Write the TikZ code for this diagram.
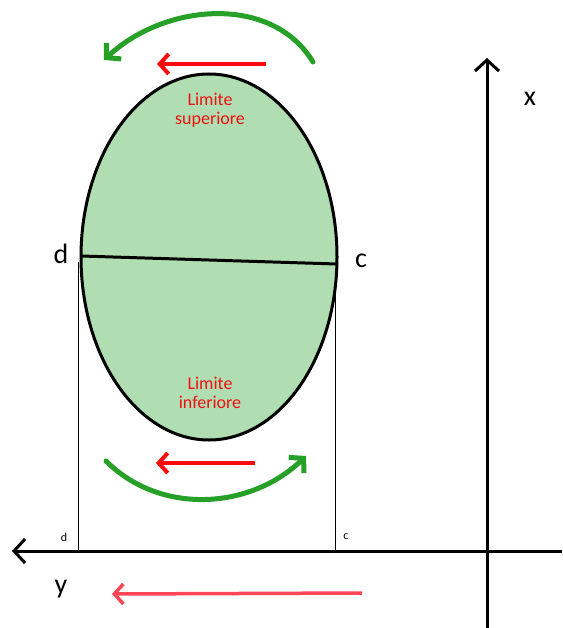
\documentclass[tikz,border=0pt]{standalone}
\usepackage{fontspec}
\setmainfont{Carlito}
\usetikzlibrary{arrows.meta,shapes.geometric}
\definecolor{fillgreen}{HTML}{B0DEB2}
\definecolor{arcgreen}{HTML}{26A026}
\definecolor{redar}{HTML}{FF0A0A}
\definecolor{pinkar}{HTML}{FF4558}
\definecolor{labred}{HTML}{F01010}
\tikzset{
  greenarc/.style={draw=arcgreen,line width=5pt,line cap=round,-{Straight Barb[length=10pt,width=22pt,line width=5pt]}},
  redarrow/.style={draw=redar,line width=4pt,-{Straight Barb[length=9pt,width=20pt,line width=4pt]}},
  axis/.style={draw=black,line width=3pt,-{Straight Barb[length=11pt,width=24pt,line width=3pt]}},
  thinln/.style={draw=black,line width=0.8pt},
  bigl/.style={font=\fontsize{28}{30}\selectfont},
  smalll/.style={font=\fontsize{12}{13}\selectfont},
  limlab/.style={text=labred,align=center,font=\fontsize{18}{19}\selectfont},
  blob/.style={ellipse,draw=black,line width=3pt,fill=fillgreen,inner sep=0pt,minimum width=256pt,minimum height=366pt}
}
\begin{document}
\begin{tikzpicture}[x=1pt,y=-1pt]
\useasboundingbox (0,0) rectangle (562,628);
% ellipse
\node (ell) [blob] at (209,257) {};
\coordinate (dpt) at (81,256);
\coordinate (cpt) at (337,264);
\draw[line width=3pt] (dpt) -- (cpt);
% projection lines
\coordinate (dtop) at (78,262);
\coordinate (ctop) at (335,280);
\coordinate (dbot) at (78,551);
\coordinate (cbot) at (335,551);
\draw[thinln] (dtop) -- (dbot);
\draw[thinln] (ctop) -- (cbot);
% axes
\coordinate (yr) at (562,551);
\coordinate (yl) at (12,551);
\coordinate (xb) at (487,628);
\coordinate (xt) at (487,58);
\draw[axis] (yr) -- (yl);
\draw[axis] (xb) -- (xt);
% labels
\node (lx) [bigl] at (530,99) {x};
\node (ly) [bigl] at (61,589) {y};
\node (ld) [bigl] at (61,254) {d};
\node (lc) [bigl] at (361,261) {c};
\node (sd) [smalll] at (64,537) {d};
\node (sc) [smalll] at (346,537) {c};
\node (lsup) [limlab] at (210,110) {Limite\\superiore};
\node (linf) [limlab] at (210,393) {Limite\\inferiore};
% red arrows
\coordinate (r1s) at (266,64);
\coordinate (r1e) at (157,64);
\coordinate (r2s) at (255,463);
\coordinate (r2e) at (156,463);
\coordinate (r3s) at (362,593);
\coordinate (r3e) at (112,594);
\draw[redarrow] (r1s) -- (r1e);
\draw[redarrow] (r2s) -- (r2e);
\draw[redarrow,draw=pinkar,-{Straight Barb[length=9pt,width=20pt,line width=3.5pt]},line width=3.5pt] (r3s) -- (r3e);
% green arcs
\coordinate (g1s) at (313,62);
\coordinate (g1e) at (104,60);
\coordinate (g2s) at (106,461);
\coordinate (g2e) at (306,456);
\draw[greenarc] (g1s) .. controls (272,-6) and (165,3) .. (g1e);
\draw[greenarc] (g2s) .. controls (160,515) and (250,510) .. (g2e);
\end{tikzpicture}
\end{document}
